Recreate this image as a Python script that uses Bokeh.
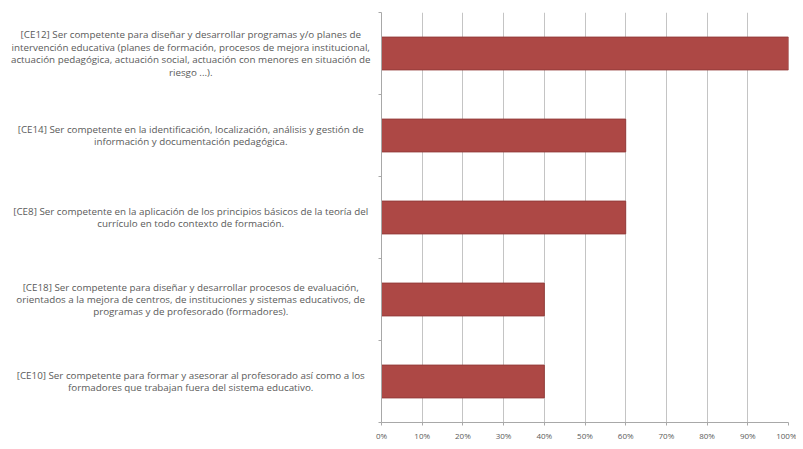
from bokeh.plotting import figure
from bokeh.layouts import row
from bokeh.models import Range1d, FixedTicker, NumeralTickFormatter, ColumnDataSource
from bokeh.core.properties import value
from bokeh.embed import file_html
from bokeh.resources import INLINE

labels = [
    "[CE12] Ser competente para diseñar y desarrollar programas y/o planes de\nintervención educativa (planes de formación, procesos de mejora institucional,\nactuación pedagógica, actuación social, actuación con menores en situación de\nriesgo ...).",
    "[CE14] Ser competente en la identificación, localización, análisis y gestión de\ninformación y documentación pedagógica.",
    "[CE8] Ser competente en la aplicación de los principios básicos de la teoría del\ncurrículo en todo contexto de formación.",
    "[CE18] Ser competente para diseñar y desarrollar procesos de evaluación,\norientados a la mejora de centros, de instituciones y sistemas educativos, de\nprogramas y de profesorado (formadores).",
    "[CE10] Ser competente para formar y asesorar al profesorado así como a los\nformadores que trabajan fuera del sistema educativo.",
]
values = [1.00, 0.60, 0.60, 0.40, 0.40]
x_ticks = [0, 0.1, 0.2, 0.3, 0.4, 0.5, 0.6, 0.7, 0.8, 0.9, 1.0]

n = len(labels)
ypos = [n - i - 0.5 for i in range(n)]
src = ColumnDataSource(dict(y=ypos, right=values, label=labels, lx=[0.51] * n))

H = 443
TOP = 12
BOT = 17

left = figure(width=373, height=H, output_backend="svg", toolbar_location=None,
              x_range=Range1d(0, 1), y_range=Range1d(0, n),
              x_axis_type=None, y_axis_type=None,
              min_border_left=0, min_border_right=0, min_border_top=TOP, min_border_bottom=BOT)
left.outline_line_color = None
left.xgrid.visible = False
left.ygrid.visible = False
left.text(x="lx", y="y", text="label", source=src, text_align="center", text_baseline="middle",
          text_font=value("Open Sans"), text_font_size="9.8px", text_color="#5A5A5A",
          text_line_height=0.95)

p = figure(width=423, height=H, output_backend="svg", toolbar_location=None,
           x_range=Range1d(0, 1), y_range=Range1d(0, n),
           min_border_left=8, min_border_right=8, min_border_top=TOP, min_border_bottom=BOT)
p.outline_line_color = None

p.hbar(y="y", right="right", left=0, height=0.4, source=src,
       fill_color="#AD4845", line_color="#943C3A", line_width=1)

p.xaxis.ticker = FixedTicker(ticks=x_ticks)
p.xaxis.formatter = NumeralTickFormatter(format="0%")
p.xaxis.major_label_text_font = "Open Sans"
p.xaxis.major_label_text_font_size = "8px"
p.xaxis.major_label_text_color = "#5A5A5A"
p.xaxis.major_label_standoff = 4
p.xaxis.axis_line_color = "#A8A8A8"
p.xaxis.major_tick_line_color = "#A8A8A8"
p.xaxis.major_tick_out = 3
p.xaxis.major_tick_in = 0
p.xaxis.minor_tick_line_color = None

y_ticks = list(range(n + 1))
p.yaxis.ticker = FixedTicker(ticks=y_ticks)
p.yaxis.major_label_overrides = {t: "" for t in y_ticks}
p.yaxis.major_label_standoff = 0
p.yaxis.axis_line_color = "#A8A8A8"
p.yaxis.major_tick_line_color = "#A8A8A8"
p.yaxis.major_tick_out = 3
p.yaxis.major_tick_in = 0
p.yaxis.minor_tick_line_color = None

p.xgrid.ticker = FixedTicker(ticks=x_ticks)
p.xgrid.grid_line_color = "#C4C4C4"
p.ygrid.grid_line_color = None

layout = row(left, p, spacing=0)
open("out.html", "w").write(file_html(layout, INLINE))
